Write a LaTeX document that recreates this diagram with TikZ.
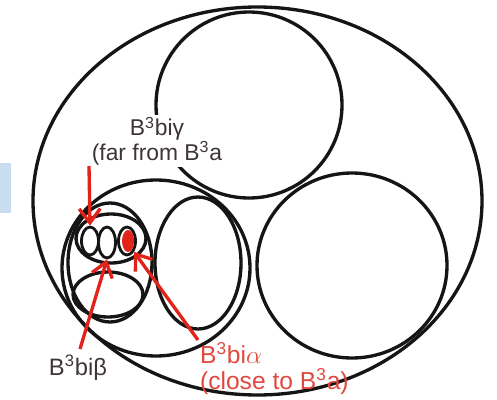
\documentclass[tikz,border=0pt]{standalone}
\usepackage{fontspec}
\setmainfont{Liberation Sans}
\usetikzlibrary{arrows.meta,shapes.geometric}
\definecolor{lineblack}{HTML}{151515}
\definecolor{arrowred}{HTML}{E2231A}
\definecolor{labelgray}{HTML}{3D3535}
\definecolor{labelred}{HTML}{E0483E}
\definecolor{barblue}{HTML}{C8DDF0}
\begin{document}
\begin{tikzpicture}[x=0.02cm, y=-0.02cm,
    ring/.style={draw=lineblack, line width=1.9pt},
    oval/.style={ellipse, draw=lineblack, line width=1.6pt, inner sep=0pt, minimum width=0.34cm, minimum height=0.56cm},
    pointer/.style={draw=arrowred, line width=1.9pt, -{Straight Barb[length=8pt,width=12pt]}},
    lbl/.style={text=labelgray, inner sep=1pt}]
    \useasboundingbox (0,0) rectangle (497,399);
    \fill[barblue] (0,163) rectangle (11,213);

    \draw[ring] (257.5,201) ellipse [x radius=224.5, y radius=194];
    \draw[ring] (249,105) circle [radius=93];
    \draw[ring] (352,265.5) ellipse [x radius=95, y radius=92.5];
    \draw[ring] (156,268) ellipse [x radius=94, y radius=88];
    \draw[ring] (198,263) ellipse [x radius=43, y radius=66];
    \draw[ring] (110,262.5) ellipse [x radius=42, y radius=59.5];
    \draw[ring] (111,238.5) ellipse [x radius=35, y radius=24.5];
    \draw[ring] (108,294.5) ellipse [x radius=35, y radius=22.5];

    \node[oval] (ovalL) at (90,241) {};
    \node[oval, minimum height=0.62cm] (ovalM) at (107,242.5) {};
    \node[oval] (ovalR) at (127,241) {};
    \fill[arrowred] ([xshift=0.6pt]ovalR.center) ellipse [x radius=6, y radius=11];

    \node[lbl, fill=white, align=center, font=\fontsize{13}{14}\selectfont] (lblgamma) at (157,141) {B\textsuperscript{3}biγ\\(far from B\textsuperscript{3}a};
    \node[lbl, font=\fontsize{13.5}{15}\selectfont] (lblbeta) at (78,368) {B\textsuperscript{3}biβ};
    \node[lbl, text=labelred, anchor=north west, align=left, font=\fontsize{14}{15}\selectfont] (lblalpha) at (198,340) {B\textsuperscript{3}bi$\alpha$\\(close to B\textsuperscript{3}a)};

    \coordinate (gammastart) at (89,166);
    \coordinate (betastart) at (80,349);
    \draw[pointer] (gammastart) -- (ovalL.north);
    \draw[pointer] (betastart) -- (ovalM.south);
    \draw[pointer] (lblalpha.north west) -- (ovalR.south east);
\end{tikzpicture}
\end{document}
